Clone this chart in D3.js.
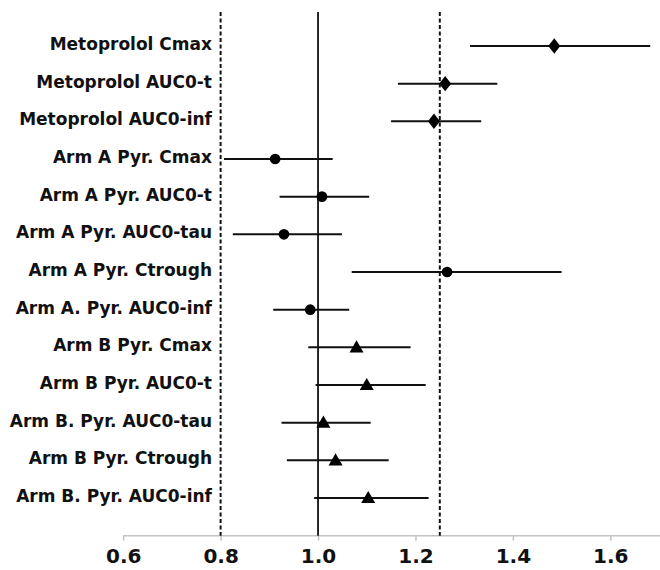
<!DOCTYPE html>
<html>
<head>
<meta charset="utf-8">
<script src="https://cdn.jsdelivr.net/npm/d3@7"></script>
<style>
  body { margin: 0; background: #fff; }
  svg { display: block; font-family: "DejaVu Sans", sans-serif; }
</style>
</head>
<body>
<div id="chart"></div>
<script>
// outcome labels, top to bottom
const labels = [
  "Metoprolol Cmax", "Metoprolol AUC0-t", "Metoprolol AUC0-inf",
  "Arm A Pyr. Cmax", "Arm A Pyr. AUC0-t", "Arm A Pyr. AUC0-tau",
  "Arm A Pyr. Ctrough", "Arm A. Pyr. AUC0-inf",
  "Arm B Pyr. Cmax", "Arm B Pyr. AUC0-t", "Arm B. Pyr. AUC0-tau",
  "Arm B Pyr. Ctrough", "Arm B. Pyr. AUC0-inf"
];
// geometric mean ratio and 90% CI
const ratio = [1.485, 1.261, 1.238, 0.912, 1.008, 0.930, 1.265, 0.984, 1.079, 1.100, 1.011, 1.036, 1.103];
const lower = [1.312, 1.164, 1.150, 0.807, 0.921, 0.825, 1.069, 0.908, 0.980, 0.995, 0.925, 0.936, 0.992];
const upper = [1.682, 1.368, 1.335, 1.030, 1.105, 1.049, 1.500, 1.064, 1.190, 1.221, 1.108, 1.145, 1.227];
const group = ["met", "met", "met", "A", "A", "A", "A", "A", "B", "B", "B", "B", "B"];

const xTicks = [0.6, 0.8, 1.0, 1.2, 1.4, 1.6];
const refSolid = [1.0];
const refDashed = [0.8, 1.25];

const width = 660, height = 570;

const svg = d3.select("#chart")
  .append("svg")
  .attr("width", width)
  .attr("height", height);

// scales
var x = d3.scaleLinear().domain([0.6, 1.7]).range([123.2, 659]);
var y = d3.scalePoint().domain(d3.range(-1, labels.length + 1)).range([8.3, 535.7]);

const plotTop = 12, plotBottom = y(labels.length);

// x axis
var xAxis = d3.axisBottom(x)
  .tickValues(xTicks)
  .tickFormat(d3.format(".1f"))
  .tickSize(5)
  .tickPadding(8);
var gx = svg.append("g")
  .attr("transform", "translate(0," + plotBottom + ")")
  .call(xAxis);
gx.select(".domain")
  .attr("d", "M" + x(0.6) + ",0H" + width)
  .attr("stroke", "#c4c4c4")
  .attr("stroke-width", 1.5);
gx.selectAll(".tick line").attr("stroke", "#c4c4c4").attr("stroke-width", 1.5);
gx.selectAll(".tick text")
  .attr("fill", "#111")
  .style("font-size", "20px")
  .style("font-weight", "700")
  .style("font-family", "'DejaVu Sans', sans-serif");

// reference lines
svg.selectAll(".ref-solid")
  .data(refSolid)
  .enter().append("line")
  .attr("x1", d => x(d)).attr("x2", d => x(d))
  .attr("y1", plotTop).attr("y2", plotBottom)
  .attr("stroke", "#111")
  .attr("stroke-width", 1.8);

svg.selectAll(".ref-dashed")
  .data(refDashed)
  .enter().append("line")
  .attr("x1", d => x(d)).attr("x2", d => x(d))
  .attr("y1", plotTop).attr("y2", plotBottom)
  .attr("stroke", "#111")
  .attr("stroke-width", 2)
  .attr("stroke-dasharray", "4,2.5");

// row labels
svg.selectAll(".row-label")
  .data(labels)
  .enter().append("text")
  .attr("x", 212)
  .attr("y", (d, i) => y(i) + 4)
  .attr("text-anchor", "end")
  .attr("fill", "#111")
  .style("font-size", "17px")
  .style("font-weight", "700")
  .text(d => d);

// confidence intervals
svg.selectAll(".ci")
  .data(labels)
  .enter().append("line")
  .attr("x1", (d, i) => x(lower[i]))
  .attr("x2", (d, i) => x(upper[i]))
  .attr("y1", (d, i) => y(i))
  .attr("y2", (d, i) => y(i))
  .attr("stroke", "#111")
  .attr("stroke-width", 2);

// markers
const shapes = { met: d3.symbolDiamond, A: d3.symbolCircle, B: d3.symbolTriangle };
const sizes = { met: 95, A: 90, B: 85 };

svg.selectAll(".marker")
  .data(labels)
  .enter().append("path")
  .attr("transform", (d, i) => "translate(" + x(ratio[i]) + "," + (y(i) + (group[i] === "B" ? 1 : 0)) + ")" +
    (group[i] === "met" ? " scale(1.15,0.85)" : ""))
  .attr("d", (d, i) => d3.symbol().type(shapes[group[i]]).size(sizes[group[i]])())
  .attr("fill", "#000");
</script>
</body>
</html>
